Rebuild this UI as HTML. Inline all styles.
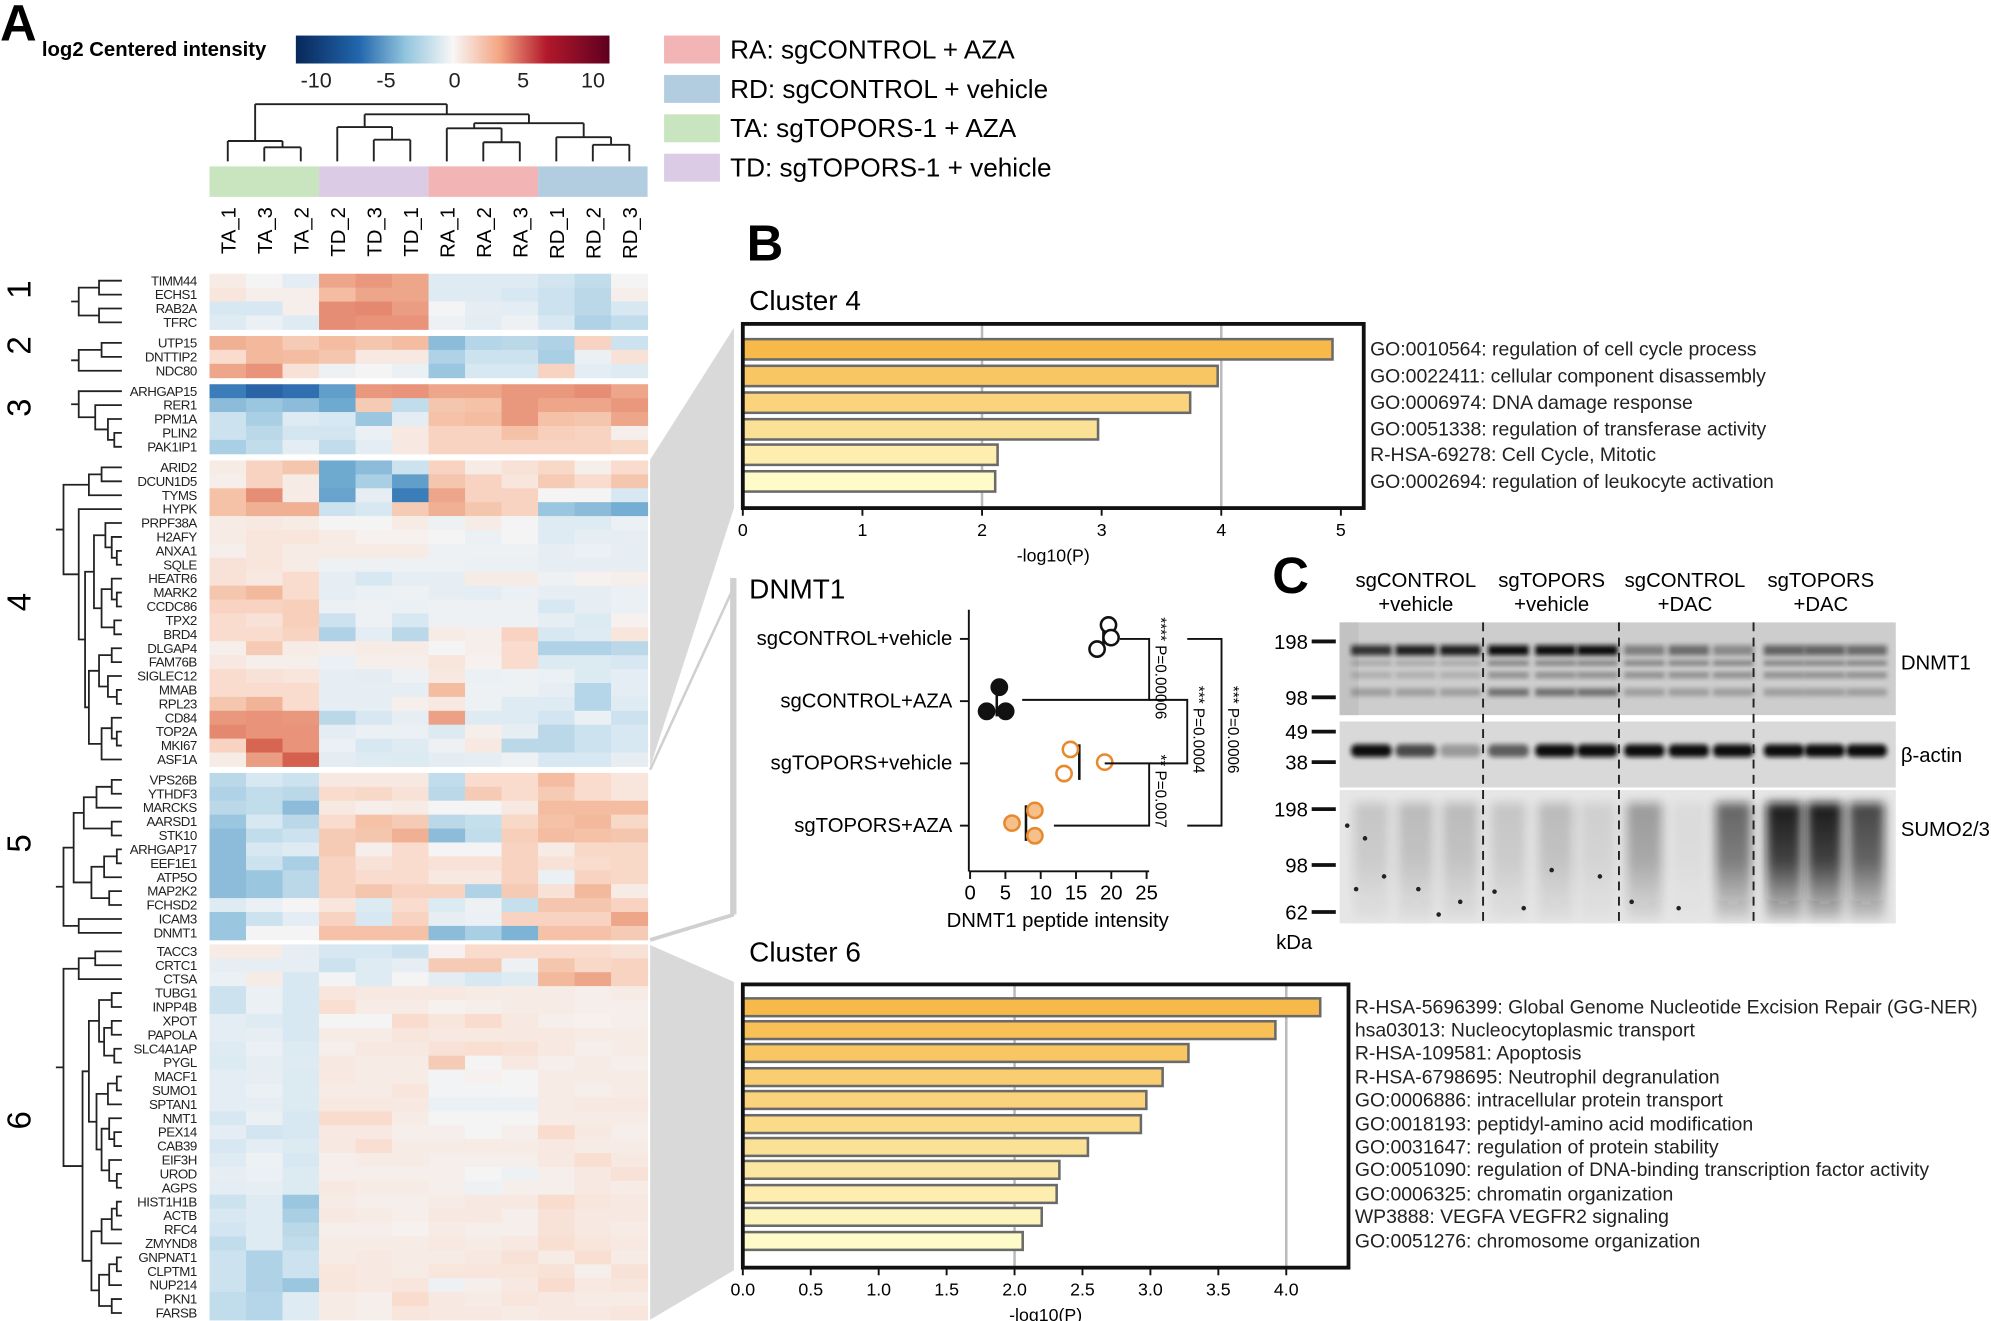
<!DOCTYPE html>
<html><head><meta charset="utf-8"><style>
html,body{margin:0;padding:0;background:#fff;}
svg{display:block;font-family:"Liberation Sans",sans-serif;}
</style></head><body>
<svg id="s" width="1991" height="1321" viewBox="0 0 1568 1040" preserveAspectRatio="none" xmlns="http://www.w3.org/2000/svg">
<defs>
<linearGradient id="cb" x1="0" x2="1" y1="0" y2="0">
<stop offset="0" stop-color="#08275a"/><stop offset="0.2" stop-color="#2166ac"/><stop offset="0.35" stop-color="#92c5de"/><stop offset="0.5" stop-color="#f7f7f7"/><stop offset="0.65" stop-color="#f4a582"/><stop offset="0.8" stop-color="#b2182b"/><stop offset="1" stop-color="#5e0020"/>
</linearGradient>
<linearGradient id="sm" x1="0" x2="0" y1="0" y2="1">
<stop offset="0" stop-color="#111" stop-opacity="1"/><stop offset="0.5" stop-color="#111" stop-opacity="0.8"/><stop offset="1" stop-color="#111" stop-opacity="0.15"/>
</linearGradient>
<filter id="blur1" x="-20%" y="-50%" width="140%" height="200%"><feGaussianBlur stdDeviation="1.8"/></filter>
<filter id="blur3" x="-30%" y="-30%" width="160%" height="160%"><feGaussianBlur stdDeviation="4"/></filter>
</defs>
<g id="g"></g>
</svg>
<script>
const g=document.getElementById('g');let h='';
function R(x,y,w,hh,f,extra){h+=`<rect x="${x}" y="${y}" width="${w}" height="${hh}" fill="${f}" ${extra||''}/>`;}
function L(x1,y1,x2,y2,c,w,extra){h+=`<line x1="${x1}" y1="${y1}" x2="${x2}" y2="${y2}" stroke="${c}" stroke-width="${w}" ${extra||''}/>`;}
function T(x,y,t,s,extra){h+=`<text x="${x}" y="${y}" font-size="${s}" ${extra||''}>${t}</text>`;}
T(0,32,'A',40,'font-weight="bold"');
T(33,44,'log2 Centered intensity',16,'font-weight="bold"');
R(233,28,247,22,'url(#cb)');
[[-10,249],[-5,304],[0,358],[5,412],[10,467]].forEach(a=>T(a[1],69,a[0],17,'text-anchor="middle" fill="#222"'));
const leg=[['#f2b4b4','RA: sgCONTROL + AZA',28],['#b3cde0','RD: sgCONTROL + vehicle',59],['#c9e5c0','TA: sgTOPORS-1 + AZA',90],['#dccbe4','TD: sgTOPORS-1 + vehicle',121]];
leg.forEach(a=>{R(523,a[2],44,22,a[0]);T(575,a[2]+18,a[1],20.6);});
const X0=165,CW=(510-165)/12;
['#c9e5c0','#dccbe4','#f2b4b4','#b3cde0'].forEach((c,i)=>R(X0+i*3*CW,131,3*CW,24,c));
const cols=['TA_1','TA_3','TA_2','TD_2','TD_3','TD_1','RA_1','RA_2','RA_3','RD_1','RD_2','RD_3'];
cols.forEach((c,i)=>{const x=X0+i*CW+CW/2+6;T(x,163,c,16,`transform="rotate(-90 ${x} 163)" text-anchor="end"`);});
function cx(i){return X0+i*CW+CW/2;}
let cd='';
function seg(a){cd+=`M${a[0]} ${a[1]}L${a[2]} ${a[3]}`;}
function join(xa,ya,xb,yb,y){seg([xa,ya,xa,y]);seg([xb,yb,xb,y]);seg([xa,y,xb,y]);}
const bot=127;
join(cx(1),bot,cx(2),bot,116);join(cx(0),bot,(cx(1)+cx(2))/2,116,111);
join(cx(4),bot,cx(5),bot,110);join(cx(3),bot,(cx(4)+cx(5))/2,110,100);
join(cx(7),bot,cx(8),bot,112);join(cx(6),bot,(cx(7)+cx(8))/2,112,101);
join(cx(10),bot,cx(11),bot,114);join(cx(9),bot,(cx(10)+cx(11))/2,114,108);
const ta=(cx(0)+(cx(1)+cx(2))/2)/2,td=(cx(3)+(cx(4)+cx(5))/2)/2,ra=(cx(6)+(cx(7)+cx(8))/2)/2,rd=(cx(9)+(cx(10)+cx(11))/2)/2;
join(ra,101,rd,108,97);
join(td,100,(ra+rd)/2,97,90);
join(ta,111,(td+(ra+rd)/2)/2,90,82);
h+=`<path d="${cd}" stroke="#222" stroke-width="1.5" fill="none"/>`;
const genes=[['TIMM44',[.3,0,-.5,2,2.3,2,-.6,-.6,-.6,-.9,-1.2,0]],['ECHS1',[.5,.2,.2,1.5,2,2,-.6,-.6,-.8,-1,-1.3,.2]],['RAB2A',[-.8,-.8,.2,2.5,2.6,2.2,0,-.4,-.5,-1,-1.3,-.8]],['TFRC',[-.6,-.3,-.6,2.5,2.4,2.4,-.2,-.5,-.2,-.8,-1.5,-1.2]],
['UTP15',[1.8,1.6,1.2,1.5,1.3,1.5,-2,-1.4,-1.3,-1.5,1,-1]],['DNTTIP2',[.8,1.6,1.5,1.3,.4,.4,-1.5,-1,-1,-1.6,-.3,.6]],['NDC80',[2,2.4,.6,-.2,0,-.3,-1.8,-.8,-.8,1,-.5,-.6]],
['ARHGAP15',[-3.2,-3.6,-3.4,-2.6,2.3,2.4,2,2,2.3,2.3,2.5,2]],['RER1',[-2,-1.8,-2,-2.4,1.2,-1.2,1.3,1.4,2.3,2,2,2.3]],['PPM1A',[-1,-1.6,-.6,-.8,-1.8,-.5,1.4,1.5,2.3,1.4,1.3,2]],['PLIN2',[-1,-1.3,-.9,-.9,-.3,.4,1,1,1.4,1.1,1,.2]],['PAK1IP1',[-1.6,-1.2,-.5,-1.2,-.5,.4,1,1,1,1,1,.9]],
['ARID2',[.3,1,1.3,-2.4,-2,-1,1,.3,.6,.9,.2,.8]],['DCUN1D5',[.2,1,.3,-2.4,-1.6,-2.6,1.3,1,.5,1.2,.8,1.3]],['TYMS',[1.4,2.5,.3,-2.5,-.4,-3.2,2,1,1,0,0,-.8]],['HYPK',[1.4,1.8,1.8,-1,-.8,1.2,1.8,1.3,1,-1.8,-2,-2.3]],
['PRPF38A',[.3,.4,.3,0,0,.3,-.2,.3,0,-.6,-.6,-.3]],['H2AFY',[.3,.5,.5,.3,.1,.1,0,-.3,0,-.6,-.4,-.4]],['ANXA1',[.2,.5,.3,.3,.3,.3,-.2,-.2,-.2,-.4,-.3,-.4]],['SQLE',[.6,.5,.3,-.2,-.2,-.2,-.2,-.3,-.3,-.4,-.4,-.4]],
['HEATR6',[.6,.4,.8,-.4,-.8,-.4,-.4,.3,.3,-.2,.1,.2]],['MARK2',[1.3,1.6,.8,-.4,-.3,-.2,-.4,-.5,-.3,-.4,-.4,-.3]],['CCDC86',[1,1,1.1,-.3,-.2,-.3,-.2,-.2,-.2,-.8,-.4,-.3]],['TPX2',[.8,.6,1.1,-1,-.2,-.8,-.2,-.2,-.2,-.4,-.7,.1]],
['BRD4',[.8,.8,1,-1.5,-.5,-1.3,.3,.2,1,-.8,-.6,.5]],['DLGAP4',[.2,1.2,.3,.2,.3,.3,0,.2,.8,-1.5,-1.5,-1.3]],['FAM76B',[.4,.2,.2,-.3,.2,.2,.5,.1,.8,-.7,-.7,-.8]],['SIGLEC12',[.8,.6,.5,-.4,-.5,-.2,.4,-.3,-.2,-.3,-.7,-.5]],
['MMAB',[.8,.8,.8,-.4,-.4,-.4,1.5,-.2,-.2,-.4,-1.4,-.5]],['RPL23',[1.3,1.7,.8,-.4,-.4,.2,.4,-.2,-.6,-.6,-1.4,-.6]],['CD84',[2.3,2.4,2.3,-1.3,-.8,-.4,2.1,-.6,-.6,-.9,-.3,-1]],['TOP2A',[2.6,2.4,2.4,-.5,-.3,-.3,-.7,.2,-.4,-1.3,-1,-.8]],
['MKI67',[1,3.2,2.4,-.3,-.8,-.6,-.2,.4,-1.3,-1.3,-1,-.8]],['ASF1A',[.3,2.2,3.3,-.5,-.6,-.7,-.5,-.4,-.2,-.8,-.8,-.4]],
['VPS26B',[-1.3,-.8,-1,.4,.4,.4,-1.2,.8,.8,1.5,.8,.5]],['YTHDF3',[-1.5,-1.2,-1.3,.8,.9,.6,-1.3,1.2,.8,1.2,.8,.5]],['MARCKS',[-1.3,-1.2,-2,.4,.2,.3,0,0,.4,1.5,1.5,1.5]],['AARSD1',[-1.8,-.8,-1.3,.8,1.4,1.2,-1.3,-1.1,.9,1.4,1.6,.9]],
['STK10',[-2,-1.2,-1,1.2,1.3,1.8,-2,-1.2,1.1,1.5,1.4,1.3]],['ARHGAP17',[-2,-.8,-.6,1.2,.2,.8,0,0,1,.3,.9,.9]],['EEF1E1',[-2,-1,-1.6,1,.6,.8,.6,.6,1,.6,.8,.9]],['ATP5O',[-2,-1.8,-1.3,1,.8,.8,.4,.4,1,-.3,1,.9]],
['MAP2K2',[-2,-1.8,-1.3,1,1.3,1,1,-1.5,1.2,.6,1.6,.3]],['FCHSD2',[-.6,-.3,0,.5,-.7,.8,-.7,-.2,-1.1,1.3,1.3,1]],['ICAM3',[-1.8,-1,-.5,1,-.8,1,-.4,-.3,1,1,1,2]],['DNMT1',[-1.8,0,0,1.4,1.4,1.4,-2,-1.6,-2.2,1.4,1.4,1.2]],
['TACC3',[.3,.3,-.4,-.8,-.8,-1,.1,.8,.8,.8,.8,.6]],['CRTC1',[-.4,-.4,-.4,-1,-.6,-.4,1.2,1.2,-.2,1.3,.9,1]],['CTSA',[-.3,.3,-.8,-.1,-.6,0,-.5,-.8,-.6,1.6,2,1]],
['TUBG1',[-1,-.3,-.8,.5,.4,.4,.4,.3,.3,.3,.2,.3]],['INPP4B',[-1,-.3,-.8,.7,.3,.3,.1,.2,.3,.3,.2,.2]],['XPOT',[-.5,-.6,-.8,0,0,.8,.5,.8,.4,.2,.1,.2]],['PAPOLA',[-.5,-.4,-.8,.3,.3,.5,.4,.4,.4,.4,.3,.3]],
['SLC4A1AP',[-.6,-.3,-.7,.2,.4,.4,.6,.7,.6,.4,.2,.3]],['PYGL',[-.7,-.4,-.6,.4,.3,.3,1.2,0,.4,.2,.3,.2]],['MACF1',[-.5,-.4,-.7,.4,.3,.3,-.1,.1,0,.3,.3,.3]],['SUMO1',[-.5,-.3,-.7,.3,.3,.5,-.1,-.1,0,.3,.2,.3]],
['SPTAN1',[-.5,-.4,-.7,.4,.4,.4,-.3,-.3,-.3,.3,.4,.4]],['NMT1',[-.8,-.3,-.8,.8,.8,.3,0,0,0,.3,.3,.3]],['PEX14',[-.5,-.9,-.8,.4,.4,.2,.2,0,.2,.8,.4,.2]],['CAB39',[-.8,-.5,-.7,.4,.7,.3,.3,.3,.3,.4,.3,.3]],
['EIF3H',[-.6,-.2,-.8,.2,.3,.3,.2,.2,.2,.4,.7,.4]],['UROD',[-.4,-.3,-.7,.2,.2,.2,.2,0,-.2,.2,.4,.6]],['AGPS',[-.5,-.4,-.7,.4,.3,.3,.2,-.2,.2,.2,.4,.3]],['HIST1H1B',[-1,-.6,-1.8,.3,.2,.2,.3,.4,.4,.8,.5,.4]],
['ACTB',[-.8,-.6,-1.6,.4,.3,.2,.4,.4,.2,.6,.4,.4]],['RFC4',[-.9,-.6,-1.3,.2,.2,.1,.3,.2,.2,.6,.4,.3]],['ZMYND8',[-1.2,-.6,-1.2,.3,.3,.3,.4,.3,.4,.7,.5,.4]],['GNPNAT1',[-1,-1.5,-1,.3,.4,.3,.3,.4,.6,.3,.7,.3]],
['CLPTM1',[-1,-1.5,-1,.5,.4,.3,.5,.5,.5,.6,.2,.6]],['NUP214',[-1,-1.5,-1.8,.5,.4,.5,-.2,.2,.4,.8,.4,.5]],['PKN1',[-1.2,-1.4,-.6,.3,.2,.8,.4,.3,.5,.4,.3,.3]],['FARSB',[-1.2,-1.4,-.6,.3,.2,.5,.4,.4,.3,.4,.4,.5]]];
const stops=[[-3.6,[42,99,166]],[-3.3,[51,119,181]],[-2.4,[110,169,208]],[-1.6,[169,207,228]],[-.8,[216,232,242]],[0,[245,244,244]],[.8,[249,220,205]],[1.6,[243,185,156]],[2.4,[232,147,122]],[3.3,[212,96,77]]];
function col(v){v=Math.max(-3.6,Math.min(3.3,v));for(let i=0;i<stops.length-1;i++){const a=stops[i],b=stops[i+1];if(v<=b[0]){const t=(v-a[0])/(b[0]-a[0]);const c=a[1].map((q,k)=>Math.round(q+(b[1][k]-q)*t));return `rgb(${c})`;}}return 'rgb(212,96,77)';}
const starts=[215.5,264.5,302.5,362.5,608.5,743.5],counts=[4,3,5,22,12,27],RH=10.95;
const ry=[];
starts.forEach((s,ci)=>{for(let k=0;k<counts[ci];k++){ry.push(s+k*RH);}});
genes.forEach((gg,i)=>{const y=ry[i];gg[1].forEach((v,j)=>R((X0+j*CW).toFixed(2),y.toFixed(2),(CW+0.4).toFixed(2),(RH+0.4).toFixed(2),col(v)));
 T(155,y+RH/2+3.6,gg[0],10.5,'text-anchor="end" fill="#222" letter-spacing="-0.4"');});
[[1,237],[2,281],[3,330],[4,483],[5,673],[6,891]].forEach(a=>T(33,a[1],a[0],26,`transform="rotate(-90 24 ${a[1]})" text-anchor="middle"`));
let rd2='';
function node(n){ if(typeof n==='number'){return [96,ry[n]+RH/2];}
 const x=n[0];const a=node(n[1]),b=node(n[2]);
 rd2+=`M${a[0]} ${a[1]}H${x}V${b[1]}H${b[0]}`;return [x,(a[1]+b[1])/2];}
const trees=[[62,[78,0,1],[78,2,3]],[62,[80,4,5],6],[62,7,[75,8,[85,9,[90,10,11]]]],
[50,[70,[80,12,13],14],[62,15,[67,[74,[83,16,[88,17,[92,18,19]]],[80,[88,20,[92,21,22]],[90,23,24]]],[70,[78,[88,25,26],[85,27,[92,28,29]]],[80,[88,30,[92,31,32]],33]]]]],
[50,[58,[66,[76,[88,34,35],36],[88,37,38]],[72,[82,[92,39,40],41],[86,42,43]]],[62,44,45]],
[50,[62,[75,46,47],48],[65,[70,[78,[88,49,50],[82,[88,51,52],[90,53,54]]],[76,[85,[92,55,56],57],[80,[86,58,[90,59,60]],[86,61,[92,62,63]]]]],[72,[80,[88,[92,64,65],66],67],[78,[86,[92,68,69],70],[88,71,72]]]]]];
trees.forEach(t=>{const r=node(t);rd2+=`M${r[0]-6} ${r[1]}H${r[0]}`;});
h+=`<path d="${rd2}" stroke="#222" stroke-width="1.4" fill="none"/>`;
h+=`<polygon points="512,362 578,258 578,400 512,604" fill="#d9d9d9"/>`;
h+=`<polygon points="512,744 578,773 578,1000 512,1039" fill="#d9d9d9"/>`;
R(575,455,5,265,'#d0d0d0');L(512,740,578,720,'#d0d0d0',3);L(512,606,578,462,'#d0d0d0',2);
T(588,205,'B',40,'font-weight="bold"');
T(590,244,'Cluster 4',22);
function barchart(x0,y0,x1,y1,unit,vals,ys,bh,labs,lx,ticks,grid,lab,tfmt){
 R(x0,y0,x1-x0,y1-y0,'#fff');
 grid.forEach(gv=>L(x0+gv*unit,y0,x0+gv*unit,y1,'#bbb',2));
 const n=vals.length;
 vals.forEach((v,i)=>{const t=n>1?i/(n-1):0;const c=[Math.round(247+(254-247)*t),Math.round(185+(251-185)*t),Math.round(74+(200-74)*t)];
  R(x0,ys[i]-bh/2,v*unit,bh,`rgb(${c})`,'stroke="#6a6a6a" stroke-width="2"');
  T(lx,ys[i]+5,labs[i],15.3,'fill="#222"');});
 R(x0,y0,x1-x0,y1-y0,'none','stroke="#111" stroke-width="3"');
 ticks.forEach(tv=>{const x=x0+tv*unit;L(x,y1,x,y1+6,'#111',1.5);T(x,y1+22,tfmt(tv),14,'text-anchor="middle"');});
 T((x0+x1)/2,y1+42,lab,14,'text-anchor="middle"');
}
barchart(585,255,1074,400,94.2,[4.93,3.97,3.74,2.97,2.13,2.11],[275,296,317,338,358,379],16,
['GO:0010564: regulation of cell cycle process','GO:0022411: cellular component disassembly','GO:0006974: DNA damage response','GO:0051338: regulation of transferase activity','R-HSA-69278: Cell Cycle, Mitotic','GO:0002694: regulation of leukocyte activation'],1079,[0,1,2,3,4,5],[2,4],'-log10(P)',v=>v);
T(590,757,'Cluster 6',22);
const c6y=[793,811,829,848,866,885,903,921,940,958,977];
barchart(585,775,1062,998,107,[4.25,3.92,3.28,3.09,2.97,2.93,2.54,2.33,2.31,2.2,2.06],c6y,14,
['R-HSA-5696399: Global Genome Nucleotide Excision Repair (GG-NER)','hsa03013: Nucleocytoplasmic transport','R-HSA-109581: Apoptosis','R-HSA-6798695: Neutrophil degranulation','GO:0006886: intracellular protein transport','GO:0018193: peptidyl-amino acid modification','GO:0031647: regulation of protein stability','GO:0051090: regulation of DNA-binding transcription factor activity','GO:0006325: chromatin organization','WP3888: VEGFA VEGFR2 signaling','GO:0051276: chromosome organization'],1067,[0,.5,1,1.5,2,2.5,3,3.5,4],[2,4],'-log10(P)',v=>v.toFixed(1));
T(590,471,'DNMT1',22);
const cats=[['sgCONTROL+vehicle',503],['sgCONTROL+AZA',552],['sgTOPORS+vehicle',601],['sgTOPORS+AZA',650]];
cats.forEach(c=>{T(750,c[1]+5,c[0],16,'text-anchor="end"');L(756,c[1],763,c[1],'#111',1.5);});
L(763,480,763,686,'#111',1.5);L(763,686,905,686,'#111',1.5);
[0,5,10,15,20,25].forEach(v=>{const x=764+v*5.56;L(x,686,x,692,'#111',1.5);T(x,708,v,16,'text-anchor="middle"');});
T(833,730,'DNMT1 peptide intensity',16,'text-anchor="middle"');
function pt(x,y,f,s){h+=`<circle cx="${x}" cy="${y}" r="6" fill="${f}" stroke="${s}" stroke-width="2"/>`;}
L(869,488,869,514,'#111',2);L(785,538,785,564,'#111',2);L(850,586,850,614,'#111',2);L(808,634,808,662,'#111',2);
pt(873,492,'#fff','#111');pt(875,502,'#fff','#111');pt(864,511,'#fff','#111');
pt(787,541,'#111','#111');pt(777,560,'#111','#111');pt(792,560,'#111','#111');
pt(843,590,'#fff','#e8892e');pt(870,600,'#fff','#e8892e');pt(838,609,'#fff','#e8892e');
pt(815,638,'#f5c08a','#e8892e');pt(797,648,'#f5c08a','#e8892e');pt(815,658,'#f5c08a','#e8892e');
function br(x,y1,y2,xl1,xl2){h+=`<path d="M${xl1} ${y1}H${x}V${y2}H${xl2}" fill="none" stroke="#111" stroke-width="1.5"/>`;}
br(905,503,551,882,805);br(935,551,601,905,905);br(905,601,650,870,830);br(962,503,650,935,935);
function vt(x,y,t){T(x,y,t,12,`transform="rotate(90 ${x} ${y})"`);}
vt(910,486,'**** P=0.00006');vt(940,540,'*** P=0.0004');vt(910,594,'** P=0.007');vt(967,540,'*** P=0.0006');
T(1002,467,'C',40,'font-weight="bold"');
[['sgCONTROL','+vehicle',1115],['sgTOPORS','+vehicle',1222],['sgCONTROL','+DAC',1327],['sgTOPORS','+DAC',1434]].forEach(a=>{T(a[2],462,a[0],16,'text-anchor="middle"');T(a[2],481,a[1],16,'text-anchor="middle"');});
R(1055,490,438,73,'#cdcdcd');R(1055,568,438,52,'#d9d9d9');R(1055,622,438,105,'#e6e6e6');
R(1055,490,15,73,'#c2c2c2');
const lanes=[1080,1115,1150,1188,1225,1258,1295,1330,1365,1405,1437,1470];
const dn=[.8,.9,.9,1,1,1,.4,.5,.35,.55,.55,.5];
lanes.forEach((x,i)=>{
 h+=`<rect x="${x-16}" y="${508}" width="32" height="8" fill="#111" opacity="${dn[i]}" filter="url(#blur1)"/>`;
 h+=`<rect x="${x-16}" y="${520}" width="32" height="4" fill="#333" opacity="${i>=3?0.5:0.25}" filter="url(#blur1)"/>`;
 h+=`<rect x="${x-16}" y="${529}" width="32" height="5" fill="#333" opacity="${i>=3?0.4:0.2}" filter="url(#blur1)"/>`;
 h+=`<rect x="${x-16}" y="${542}" width="32" height="6" fill="#333" opacity="${i>=3&&i<6?0.6:0.3}" filter="url(#blur1)"/>`;
});
const ac=[1,.7,.3,.6,1,1,1,1,1,1,1,1];
lanes.forEach((x,i)=>h+=`<rect x="${x-16}" y="${586}" width="32" height="10" rx="4" fill="#111" opacity="${ac[i]}" filter="url(#blur1)"/>`);
const su=[.15,.2,.2,.15,.2,.1,.35,.05,.6,.95,.95,.75];
lanes.forEach((x,i)=>h+=`<rect x="${x-14}" y="${632}" width="28" height="92" fill="url(#sm)" opacity="${su[i]}" filter="url(#blur3)"/>`);
[[1061,650],[1075,660],[1133,720],[1177,702],[1222,685],[1285,710],[1117,700],[1068,700],[1090,690],[1150,710],[1200,715],[1260,690],[1322,715]].forEach(p=>h+=`<circle cx="${p[0]}" cy="${p[1]}" r="1.8" fill="#222"/>`);
[1168,1275,1381].forEach(x=>L(x,490,x,727,'#222',1.5,'stroke-dasharray="7,5"'));
[[198,505],[98,549],[49,576],[38,600],[198,637],[98,681],[62,718]].forEach(a=>{T(1030,a[1]+6,a[0],16,'text-anchor="end"');L(1033,a[1],1052,a[1],'#111',3);});
T(1005,747,'kDa',16);
T(1497,527,'DNMT1',16);T(1497,600,'β-actin',16);T(1497,658,'SUMO2/3',16);
g.innerHTML=h;
</script>
</body></html>
